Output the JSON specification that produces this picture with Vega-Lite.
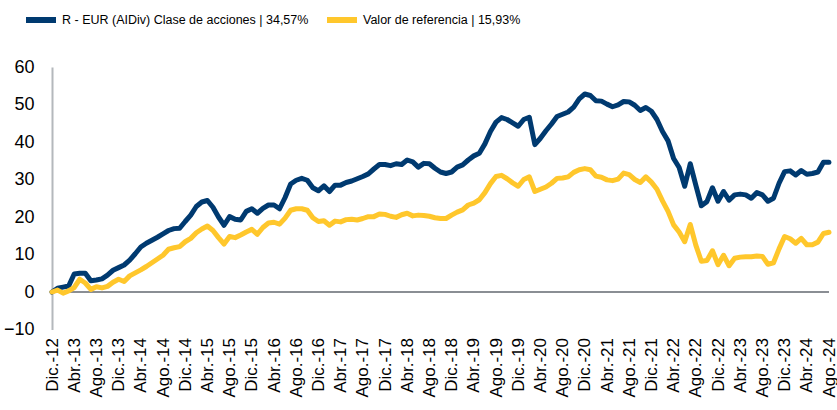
{
  "$schema": "https://vega.github.io/schema/vega-lite/v6.json",
  "width": 777,
  "height": 262.5,
  "autosize": {"type": "none"},
  "padding": {"left": 52, "top": 67, "right": 8, "bottom": 80.5},
  "background": "white",
  "config": {
    "view": {"stroke": null},
    "font": "Liberation Sans",
    "axis": {"labelFont": "Liberation Sans", "labelColor": "#000000"},
    "axisY": {"labelOverlap": false, "labelFlush": false, "labelFontSize": 18, "labelPadding": 18, "grid": false, "ticks": false, "domainColor": "#b4b8bc", "domainWidth": 2},
    "legend": {"labelFont": "Liberation Sans", "labelColor": "#000000"}
  },
  "datasets": {
    "series": [
      {"m": "Dic.-12", "r": 0, "v": 0},
      {"m": "Ene.-13", "r": 1.0, "v": 0.5},
      {"m": "Feb.-13", "r": 1.3, "v": -0.3},
      {"m": "Mar.-13", "r": 1.6, "v": 0.3},
      {"m": "Abr.-13", "r": 4.8, "v": 1.2},
      {"m": "May.-13", "r": 5.0, "v": 3.4},
      {"m": "Jun.-13", "r": 5.0, "v": 2.4},
      {"m": "Jul.-13", "r": 3.0, "v": 0.7},
      {"m": "Ago.-13", "r": 3.2, "v": 1.4},
      {"m": "Sep.-13", "r": 3.5, "v": 1.1},
      {"m": "Oct.-13", "r": 4.5, "v": 1.5},
      {"m": "Nov.-13", "r": 5.8, "v": 2.6},
      {"m": "Dic.-13", "r": 6.5, "v": 3.4},
      {"m": "Ene.-14", "r": 7.2, "v": 2.8},
      {"m": "Feb.-14", "r": 8.5, "v": 4.3},
      {"m": "Mar.-14", "r": 10.2, "v": 5.1},
      {"m": "Abr.-14", "r": 12.0, "v": 5.9},
      {"m": "May.-14", "r": 13.0, "v": 6.8},
      {"m": "Jun.-14", "r": 13.8, "v": 7.8},
      {"m": "Jul.-14", "r": 14.6, "v": 8.8},
      {"m": "Ago.-14", "r": 15.5, "v": 9.8},
      {"m": "Sep.-14", "r": 16.4, "v": 11.4},
      {"m": "Oct.-14", "r": 16.9, "v": 11.8},
      {"m": "Nov.-14", "r": 17.0, "v": 12.1},
      {"m": "Dic.-14", "r": 18.8, "v": 13.4},
      {"m": "Ene.-15", "r": 20.5, "v": 14.3},
      {"m": "Feb.-15", "r": 22.8, "v": 15.8},
      {"m": "Mar.-15", "r": 24.0, "v": 16.8},
      {"m": "Abr.-15", "r": 24.4, "v": 17.6},
      {"m": "May.-15", "r": 22.6, "v": 16.4},
      {"m": "Jun.-15", "r": 20.0, "v": 14.5},
      {"m": "Jul.-15", "r": 17.8, "v": 12.8},
      {"m": "Ago.-15", "r": 20.1, "v": 14.8},
      {"m": "Sep.-15", "r": 19.4, "v": 14.5},
      {"m": "Oct.-15", "r": 19.2, "v": 15.2},
      {"m": "Nov.-15", "r": 21.5, "v": 16.0},
      {"m": "Dic.-15", "r": 22.2, "v": 16.7},
      {"m": "Ene.-16", "r": 21.0, "v": 15.4},
      {"m": "Feb.-16", "r": 22.3, "v": 17.2},
      {"m": "Mar.-16", "r": 23.2, "v": 18.4},
      {"m": "Abr.-16", "r": 23.2, "v": 18.6},
      {"m": "May.-16", "r": 22.2, "v": 18.1},
      {"m": "Jun.-16", "r": 25.2, "v": 19.7},
      {"m": "Jul.-16", "r": 28.8, "v": 21.8},
      {"m": "Ago.-16", "r": 29.8, "v": 22.2},
      {"m": "Sep.-16", "r": 30.3, "v": 22.2},
      {"m": "Oct.-16", "r": 29.8, "v": 21.8},
      {"m": "Nov.-16", "r": 27.8, "v": 19.8},
      {"m": "Dic.-16", "r": 27.0, "v": 18.8},
      {"m": "Ene.-17", "r": 28.3, "v": 19.0},
      {"m": "Feb.-17", "r": 26.8, "v": 17.8},
      {"m": "Mar.-17", "r": 28.5, "v": 18.9},
      {"m": "Abr.-17", "r": 28.5, "v": 18.7},
      {"m": "May.-17", "r": 29.2, "v": 19.3},
      {"m": "Jun.-17", "r": 29.6, "v": 19.4},
      {"m": "Jul.-17", "r": 30.2, "v": 19.2},
      {"m": "Ago.-17", "r": 30.8, "v": 19.6},
      {"m": "Sep.-17", "r": 31.5, "v": 20.1},
      {"m": "Oct.-17", "r": 32.8, "v": 20.1},
      {"m": "Nov.-17", "r": 34.0, "v": 20.8},
      {"m": "Dic.-17", "r": 34.0, "v": 20.7},
      {"m": "Ene.-18", "r": 33.7, "v": 20.2},
      {"m": "Feb.-18", "r": 34.2, "v": 19.9},
      {"m": "Mar.-18", "r": 34.0, "v": 20.6},
      {"m": "Abr.-18", "r": 35.2, "v": 21.0},
      {"m": "May.-18", "r": 34.7, "v": 20.3},
      {"m": "Jun.-18", "r": 33.3, "v": 20.5},
      {"m": "Jul.-18", "r": 34.3, "v": 20.4},
      {"m": "Ago.-18", "r": 34.2, "v": 20.2},
      {"m": "Sep.-18", "r": 33.0, "v": 19.8},
      {"m": "Oct.-18", "r": 32.0, "v": 19.6},
      {"m": "Nov.-18", "r": 31.6, "v": 19.6},
      {"m": "Dic.-18", "r": 32.0, "v": 20.5},
      {"m": "Ene.-19", "r": 33.3, "v": 21.3},
      {"m": "Feb.-19", "r": 33.9, "v": 21.9},
      {"m": "Mar.-19", "r": 35.2, "v": 23.2},
      {"m": "Abr.-19", "r": 36.3, "v": 23.7},
      {"m": "May.-19", "r": 37.0, "v": 24.6},
      {"m": "Jun.-19", "r": 39.5, "v": 26.5},
      {"m": "Jul.-19", "r": 42.8, "v": 28.9},
      {"m": "Ago.-19", "r": 45.3, "v": 30.8},
      {"m": "Sep.-19", "r": 46.5, "v": 31.1},
      {"m": "Oct.-19", "r": 46.0, "v": 30.2},
      {"m": "Nov.-19", "r": 45.1, "v": 29.1},
      {"m": "Dic.-19", "r": 44.2, "v": 28.2},
      {"m": "Ene.-20", "r": 46.0, "v": 30.0},
      {"m": "Feb.-20", "r": 46.6, "v": 30.7},
      {"m": "Mar.-20", "r": 39.3, "v": 26.8},
      {"m": "Abr.-20", "r": 41.0, "v": 27.4},
      {"m": "May.-20", "r": 43.0, "v": 28.0},
      {"m": "Jun.-20", "r": 44.8, "v": 29.0},
      {"m": "Jul.-20", "r": 46.8, "v": 30.3},
      {"m": "Ago.-20", "r": 47.4, "v": 30.4},
      {"m": "Sep.-20", "r": 48.0, "v": 30.7},
      {"m": "Oct.-20", "r": 49.3, "v": 31.9},
      {"m": "Nov.-20", "r": 51.5, "v": 32.6},
      {"m": "Dic.-20", "r": 52.8, "v": 32.9},
      {"m": "Ene.-21", "r": 52.4, "v": 32.6},
      {"m": "Feb.-21", "r": 51.0, "v": 30.9},
      {"m": "Mar.-21", "r": 50.9, "v": 30.6},
      {"m": "Abr.-21", "r": 50.1, "v": 29.9},
      {"m": "May.-21", "r": 49.4, "v": 29.7},
      {"m": "Jun.-21", "r": 49.9, "v": 30.1},
      {"m": "Jul.-21", "r": 50.8, "v": 31.7},
      {"m": "Ago.-21", "r": 50.7, "v": 31.3},
      {"m": "Sep.-21", "r": 49.8, "v": 30.0},
      {"m": "Oct.-21", "r": 48.4, "v": 29.2},
      {"m": "Nov.-21", "r": 49.2, "v": 30.7},
      {"m": "Dic.-21", "r": 48.2, "v": 29.3},
      {"m": "Ene.-22", "r": 46.0, "v": 27.4},
      {"m": "Feb.-22", "r": 42.8, "v": 24.3},
      {"m": "Mar.-22", "r": 40.3, "v": 21.5},
      {"m": "Abr.-22", "r": 35.6, "v": 17.9},
      {"m": "May.-22", "r": 33.2, "v": 16.0},
      {"m": "Jun.-22", "r": 28.2, "v": 13.4},
      {"m": "Jul.-22", "r": 34.2, "v": 18.0},
      {"m": "Ago.-22", "r": 28.5, "v": 12.5},
      {"m": "Sep.-22", "r": 23.0, "v": 8.2},
      {"m": "Oct.-22", "r": 24.1, "v": 8.4},
      {"m": "Nov.-22", "r": 27.8, "v": 11.0},
      {"m": "Dic.-22", "r": 24.2, "v": 7.3},
      {"m": "Ene.-23", "r": 26.8, "v": 9.8},
      {"m": "Feb.-23", "r": 24.5, "v": 7.0},
      {"m": "Mar.-23", "r": 25.9, "v": 9.0},
      {"m": "Abr.-23", "r": 26.1, "v": 9.3},
      {"m": "May.-23", "r": 25.9, "v": 9.4},
      {"m": "Jun.-23", "r": 25.0, "v": 9.4},
      {"m": "Jul.-23", "r": 26.5, "v": 9.6},
      {"m": "Ago.-23", "r": 25.9, "v": 9.5},
      {"m": "Sep.-23", "r": 24.2, "v": 7.4},
      {"m": "Oct.-23", "r": 25.0, "v": 7.8},
      {"m": "Nov.-23", "r": 29.0, "v": 11.5},
      {"m": "Dic.-23", "r": 32.1, "v": 14.8},
      {"m": "Ene.-24", "r": 32.3, "v": 14.2},
      {"m": "Feb.-24", "r": 31.2, "v": 13.0},
      {"m": "Mar.-24", "r": 32.4, "v": 14.3},
      {"m": "Abr.-24", "r": 31.4, "v": 12.6},
      {"m": "May.-24", "r": 31.6, "v": 12.6},
      {"m": "Jun.-24", "r": 32.0, "v": 13.3},
      {"m": "Jul.-24", "r": 34.6, "v": 15.6},
      {"m": "Ago.-24", "r": 34.57, "v": 15.93}
    ],
    "zero": [{"z": 0}]
  },
  "layer": [
    {
      "data": {"name": "zero"},
      "mark": {"type": "rule", "color": "#8a8e94", "strokeWidth": 2},
      "encoding": {
        "y": {
          "field": "z",
          "type": "quantitative",
          "axis": {"title": null, "values": [-10, 0, 10, 20, 30, 40, 50, 60]}
        }
      }
    },
    {
      "data": {"name": "series"},
      "transform": [{"fold": ["r", "v"], "as": ["k", "val"]}],
      "mark": {"type": "line", "strokeWidth": 5, "strokeCap": "round", "strokeJoin": "round"},
      "encoding": {
        "x": {
          "field": "m",
          "type": "ordinal",
          "sort": null,
          "scale": {"type": "point", "padding": 0},
          "axis": {
            "title": null,
            "domain": false,
            "ticks": false,
            "labelAngle": -90,
            "labelFontSize": 17,
            "labelPadding": 8,
            "labelOverlap": false,
            "values": ["Dic.-12","Abr.-13","Ago.-13","Dic.-13","Abr.-14","Ago.-14","Dic.-14","Abr.-15","Ago.-15","Dic.-15","Abr.-16","Ago.-16","Dic.-16","Abr.-17","Ago.-17","Dic.-17","Abr.-18","Ago.-18","Dic.-18","Abr.-19","Ago.-19","Dic.-19","Abr.-20","Ago.-20","Dic.-20","Abr.-21","Ago.-21","Dic.-21","Abr.-22","Ago.-22","Dic.-22","Abr.-23","Ago.-23","Dic.-23","Abr.-24","Ago.-24"]
          }
        },
        "y": {
          "field": "val",
          "type": "quantitative",
          "scale": {"domain": [-10, 60], "nice": false, "zero": false},
          "axis": {"title": null, "values": [-10, 0, 10, 20, 30, 40, 50, 60]}
        },
        "color": {
          "field": "k",
          "type": "nominal",
          "scale": {"domain": ["r", "v"], "range": ["#003A70", "#FFC72C"]},
          "legend": {
            "title": null,
            "orient": "none",
            "direction": "horizontal",
            "legendX": -29,
            "legendY": -65,
            "symbolType": "stroke",
            "symbolStrokeWidth": 6,
            "symbolSize": 900,
            "labelFontSize": 12.5,
            "labelOffset": 3,
            "columnPadding": 6,
            "labelLimit": 400,
            "labelExpr": "datum.label == 'r' ? 'R - EUR (AIDiv) Clase de acciones | 34,57%' : 'Valor de referencia | 15,93%'"
          }
        }
      }
    }
  ]
}
